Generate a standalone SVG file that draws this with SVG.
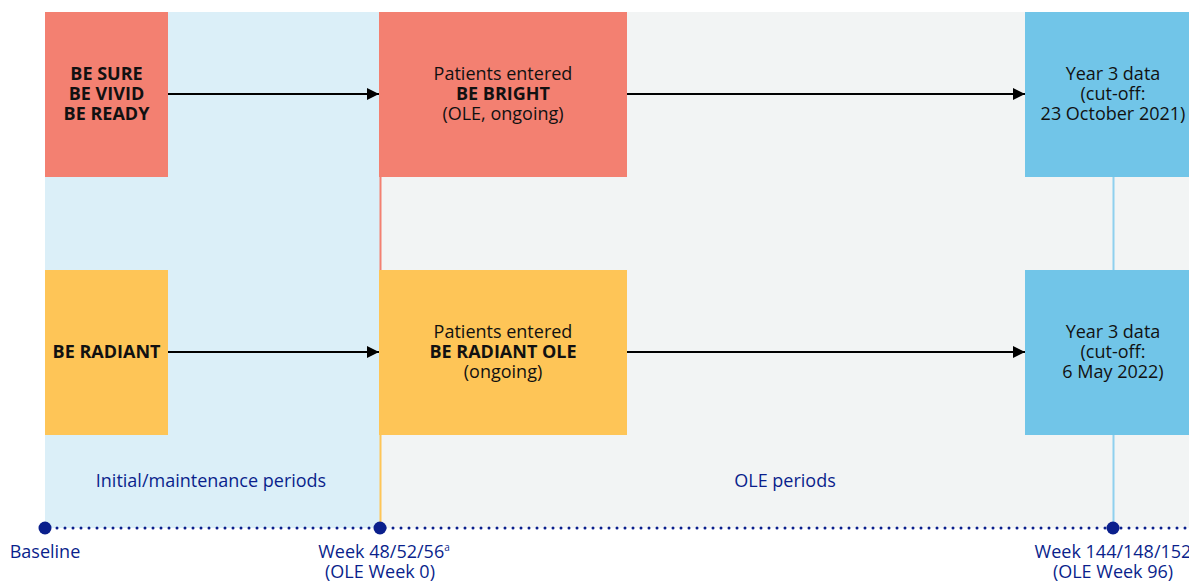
<svg xmlns="http://www.w3.org/2000/svg" width="1189" height="583" viewBox="0 0 1189 583">
<style>
.t{font-family:"Open Sans","Liberation Sans",sans-serif;font-size:18px;fill:#111;text-anchor:middle}
.b{font-weight:bold}
.n{font-family:"Open Sans","Liberation Sans",sans-serif;font-size:18px;fill:#0a1f8c;text-anchor:middle}
.arr{stroke:#000;stroke-width:2;fill:none;marker-end:url(#ah)}
</style>
<defs>
<marker id="ah" viewBox="0 0 10 10" refX="10" refY="5" markerWidth="6" markerHeight="6" markerUnits="strokeWidth" orient="auto">
<path d="M0,0 L10,5 L0,10 Z" fill="#000"/>
</marker>
</defs>
<rect width="1189" height="583" fill="#fff"/>
<g id="backgrounds">
<rect x="45" y="12" width="335" height="516" fill="#dbeff8"/>
<rect x="380" y="12" width="809" height="516" fill="#f2f4f4"/>
<text class="n" x="211" y="487">Initial/maintenance periods</text>
<text class="n" x="785" y="487">OLE periods</text>
</g>
<g id="connectors">
<line x1="380.5" y1="177" x2="380.5" y2="270" stroke="#f38071" stroke-width="2"/>
<line x1="380.5" y1="435" x2="380.5" y2="528" stroke="#fec557" stroke-width="2"/>
<line x1="1113.5" y1="177" x2="1113.5" y2="270" stroke="#8fd0ee" stroke-width="2"/>
<line x1="1113.5" y1="435" x2="1113.5" y2="528" stroke="#8fd0ee" stroke-width="2"/>
<line class="arr" x1="168" y1="94" x2="379" y2="94"/>
<line class="arr" x1="627" y1="94" x2="1025" y2="94"/>
<line class="arr" x1="168" y1="352" x2="379" y2="352"/>
<line class="arr" x1="627" y1="352" x2="1025" y2="352"/>
</g>
<g id="n-be-sure">
<rect x="45" y="12" width="123" height="165" fill="#f38071"/>
<text class="t b" x="106.5" y="80">BE SURE</text>
<text class="t b" x="106.5" y="100">BE VIVID</text>
<text class="t b" x="106.5" y="120">BE READY</text>
</g>
<g id="n-be-bright">
<rect x="379" y="12" width="248" height="165" fill="#f38071"/>
<text class="t" x="503" y="80">Patients entered</text>
<text class="t b" x="503" y="100">BE BRIGHT</text>
<text class="t" x="503" y="120">(OLE, ongoing)</text>
</g>
<g id="n-year3-top">
<rect x="1025" y="12" width="164" height="165" fill="#71c5e8"/>
<text class="t" x="1113" y="80">Year 3 data</text>
<text class="t" x="1113" y="100">(cut-off:</text>
<text class="t" x="1113" y="120">23 October 2021)</text>
</g>
<g id="n-be-radiant">
<rect x="45" y="270" width="123" height="165" fill="#fec557"/>
<text class="t b" x="106.5" y="358">BE RADIANT</text>
</g>
<g id="n-be-radiant-ole">
<rect x="379" y="270" width="248" height="165" fill="#fec557"/>
<text class="t" x="503" y="338">Patients entered</text>
<text class="t b" x="503" y="358">BE RADIANT OLE</text>
<text class="t" x="503" y="378">(ongoing)</text>
</g>
<g id="n-year3-bottom">
<rect x="1025" y="270" width="164" height="165" fill="#71c5e8"/>
<text class="t" x="1113" y="338">Year 3 data</text>
<text class="t" x="1113" y="358">(cut-off:</text>
<text class="t" x="1113" y="378">6 May 2022)</text>
</g>
<g id="timeline">
<line x1="49" y1="528" x2="1189" y2="528" stroke="#0a1f8c" stroke-width="3" stroke-linecap="round" stroke-dasharray="0 8"/>
<circle cx="45" cy="528" r="6.5" fill="#0a1f8c"/>
<circle cx="380" cy="528" r="6.5" fill="#0a1f8c"/>
<circle cx="1113" cy="528" r="6.5" fill="#0a1f8c"/>
<text class="n" x="45" y="558">Baseline</text>
<text class="n" x="384" y="558">Week 48/52/56<tspan font-size="10" dy="-7">a</tspan></text>
<text class="n" x="380" y="578">(OLE Week 0)</text>
<text class="n" x="1113" y="558">Week 144/148/152</text>
<text class="n" x="1113" y="578">(OLE Week 96)</text>
</g>
</svg>
